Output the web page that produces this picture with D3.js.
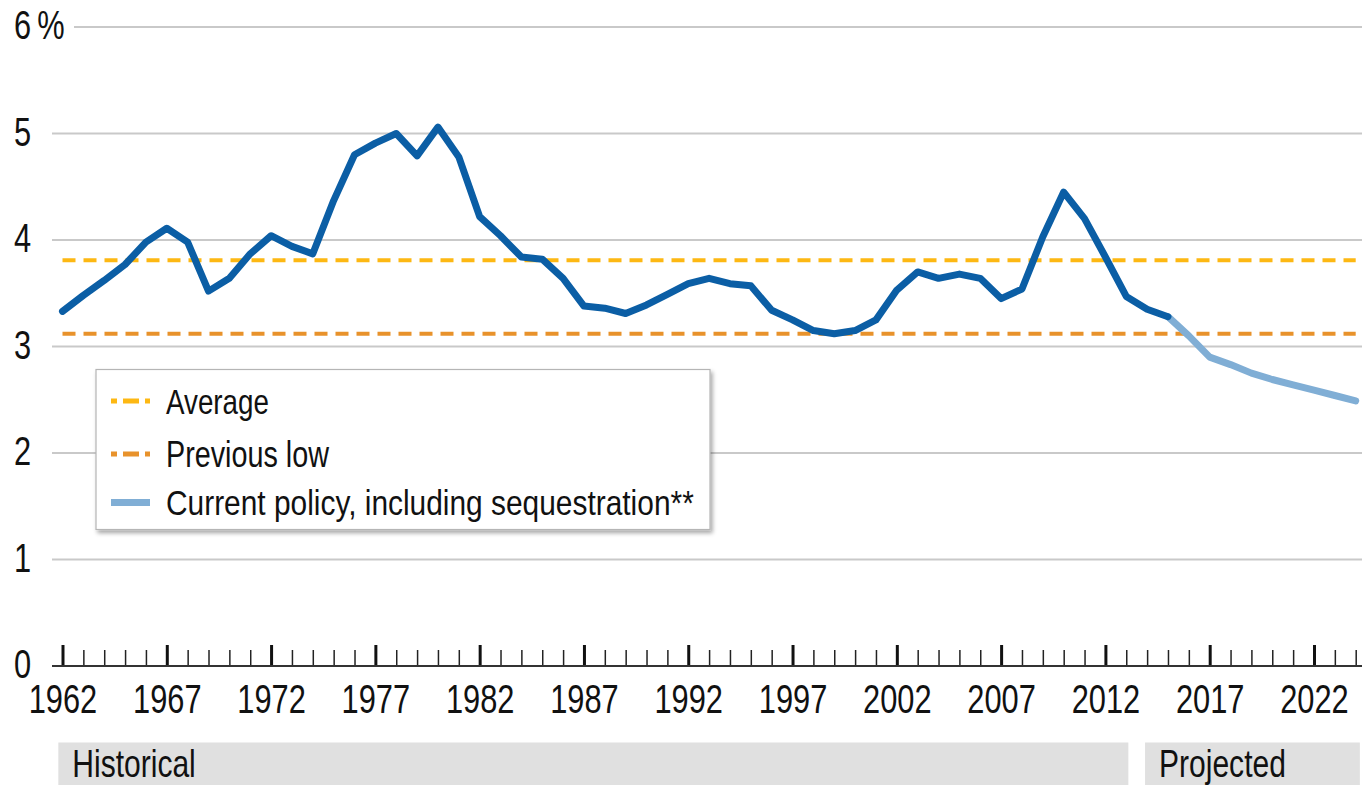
<!DOCTYPE html>
<html>
<head>
<meta charset="utf-8">
<script src="https://cdn.jsdelivr.net/npm/d3@7"></script>
<style>
  html, body { margin: 0; padding: 0; background: #fff; }
  svg { display: block; }
  text { font-family: "Liberation Sans", Arial, sans-serif; fill: #111; }
</style>
</head>
<body>
<svg id="chart" width="1362" height="785"></svg>
<script>
// ---- data ----
const histYears = [1962,1963,1964,1965,1966,1967,1968,1969,1970,1971,1972,1973,1974,1975,1976,1977,1978,1979,1980,1981,1982,1983,1984,1985,1986,1987,1988,1989,1990,1991,1992,1993,1994,1995,1996,1997,1998,1999,2000,2001,2002,2003,2004,2005,2006,2007,2008,2009,2010,2011,2012,2013,2014,2015];
const histValues = [3.33,3.48,3.62,3.77,3.98,4.11,3.98,3.52,3.64,3.87,4.04,3.94,3.87,4.37,4.80,4.91,5.00,4.79,5.06,4.78,4.22,4.04,3.84,3.82,3.64,3.38,3.36,3.31,3.39,3.49,3.59,3.64,3.59,3.57,3.34,3.25,3.15,3.12,3.15,3.25,3.53,3.70,3.64,3.68,3.64,3.45,3.54,4.03,4.45,4.20,3.84,3.47,3.35,3.28];
const projYears = [2015,2016,2017,2018,2019,2020,2021,2022,2023,2024];
const projValues = [3.28,3.10,2.90,2.83,2.75,2.69,2.64,2.59,2.54,2.49];
const averageValue = 3.81;
const previousLowValue = 3.12;
const yTicks = [0,1,2,3,4,5,6];
const yTickLabels = ["0","1","2","3","4","5","6\u2009%"];
const xMajorTicks = [1962,1967,1972,1977,1982,1987,1992,1997,2002,2007,2012,2017,2022];
const periodNames = ["Historical","Projected"];
const periodStart = [1961.8, 2013.9];
const periodEnd = [2013.1, 2024.2];
const legendLabels = ["Average","Previous low","Current policy, including sequestration**"];

// ---- layout ----
const svg = d3.select("#chart");
const x = d3.scaleLinear().domain([1962, 2024]).range([62.5, 1355.7]);
const y = d3.scaleLinear().domain([0, 6]).range([666, 27]);

const cDark = "#0b5ea5", cLight = "#80aed5", cAvg = "#fdb813", cLow = "#e8922b", cGrid = "#c9c9c9";
const K = 0.77; // horizontal condensing of the sans face (original uses a condensed font)
const legendTextWidths = [103, 163, 528];

// shadow filter
const defs = svg.append("defs");
const f = defs.append("filter").attr("id","shadow").attr("x","-5%").attr("y","-10%").attr("width","115%").attr("height","130%");
f.append("feDropShadow").attr("dx",2).attr("dy",3).attr("stdDeviation",2).attr("flood-color","#000").attr("flood-opacity",0.35);

// gridlines
svg.append("g").selectAll("line").data(yTicks.filter(d => d > 0)).join("line")
  .attr("x1", d => d === 6 ? 74 : 52).attr("x2", 1362)
  .attr("y1", d => y(d)).attr("y2", d => y(d))
  .attr("stroke", cGrid).attr("stroke-width", 2);

// y labels (condensed via transform)
svg.append("g").selectAll("text").data(yTicks).join("text")
  .attr("transform", d => `translate(14,${y(d) - 2}) scale(${K},1)`)
  .attr("dy", "0.36em")
  .attr("font-size", 40)
  .text((d, i) => yTickLabels[i]);

// x axis
const xAxisMinor = d3.axisBottom(x).tickValues(d3.range(1962, 2025)).tickSize(-16).tickFormat("");
const gMinor = svg.append("g").attr("transform", `translate(0,${y(0)})`).call(xAxisMinor);
gMinor.select(".domain").remove();
gMinor.selectAll(".tick line").attr("stroke", "#222").attr("stroke-width", 1.5);

const xAxisMajor = d3.axisBottom(x).tickValues(xMajorTicks).tickSize(-21).tickPadding(0).tickFormat(d3.format("d"));
const gMajor = svg.append("g").attr("transform", `translate(0,${y(0)})`).call(xAxisMajor);
gMajor.select(".domain").remove();
gMajor.selectAll(".tick line").attr("stroke", "#111").attr("stroke-width", 3);
gMajor.selectAll(".tick text").attr("y", 0).attr("dy", 0)
  .attr("transform", `translate(0,47) scale(${K},1)`)
  .attr("font-size", 40).attr("fill", "#111")
  .style("font-family", '"Liberation Sans", Arial, sans-serif');

svg.append("line").attr("x1", 52).attr("x2", 1362).attr("y1", y(0)).attr("y2", y(0))
  .attr("stroke", "#333").attr("stroke-width", 2);

// reference lines
svg.append("line").attr("x1", x(1962)).attr("x2", x(2024)).attr("y1", y(averageValue)).attr("y2", y(averageValue))
  .attr("stroke", cAvg).attr("stroke-width", 4).attr("stroke-dasharray", "13,8");
svg.append("line").attr("x1", x(1962)).attr("x2", x(2024)).attr("y1", y(previousLowValue)).attr("y2", y(previousLowValue))
  .attr("stroke", cLow).attr("stroke-width", 4).attr("stroke-dasharray", "13,8");

// lines
const line = d3.line().x(d => x(d[0])).y(d => y(d[1]));
svg.append("path").datum(projYears.map((yr, i) => [yr, projValues[i]]))
  .attr("d", line).attr("fill", "none").attr("stroke", cLight).attr("stroke-width", 7)
  .attr("stroke-linejoin", "round").attr("stroke-linecap", "round");
svg.append("path").datum(histYears.map((yr, i) => [yr, histValues[i]]))
  .attr("d", line).attr("fill", "none").attr("stroke", cDark).attr("stroke-width", 7)
  .attr("stroke-linejoin", "round").attr("stroke-linecap", "round");

// legend
const lg = svg.append("g");
lg.append("rect").attr("x", 96).attr("y", 369.5).attr("width", 614).attr("height", 160)
  .attr("fill", "#fff").attr("stroke", "#b5b5b5").attr("stroke-width", 1.2).attr("filter", "url(#shadow)");
const legendColors = [cAvg, cLow, cLight];
const legendRowY = [401, 454, 502.5];
legendLabels.forEach((lab, i) => {
  const ln = lg.append("line").attr("x1", 111).attr("x2", 150)
    .attr("y1", legendRowY[i]).attr("y2", legendRowY[i]).attr("stroke", legendColors[i]);
  if (i < 2) ln.attr("stroke-width", 5).attr("stroke-dasharray", "16,6").attr("stroke-dashoffset", 10);
  else ln.attr("stroke-width", 7);
  const t = lg.append("text").attr("x", 166).attr("y", legendRowY[i]).attr("dy", "0.36em")
    .attr("font-size", 36).text(lab);
  const w = t.node().getComputedTextLength();
  t.attr("transform", `translate(166,0) scale(${legendTextWidths[i] / w},1) translate(-166,0)`);
});

// period bands
const bands = svg.append("g");
periodNames.forEach((nm, i) => {
  const x0 = x(periodStart[i]);
  bands.append("rect").attr("x", x0).attr("y", 742.5)
    .attr("width", x(periodEnd[i]) - x0).attr("height", 43).attr("fill", "#e0e0e0");
  bands.append("text").attr("transform", `translate(${x0 + 14},777) scale(${K},1)`)
    .attr("font-size", 39).text(nm);
});
</script>
</body>
</html>
